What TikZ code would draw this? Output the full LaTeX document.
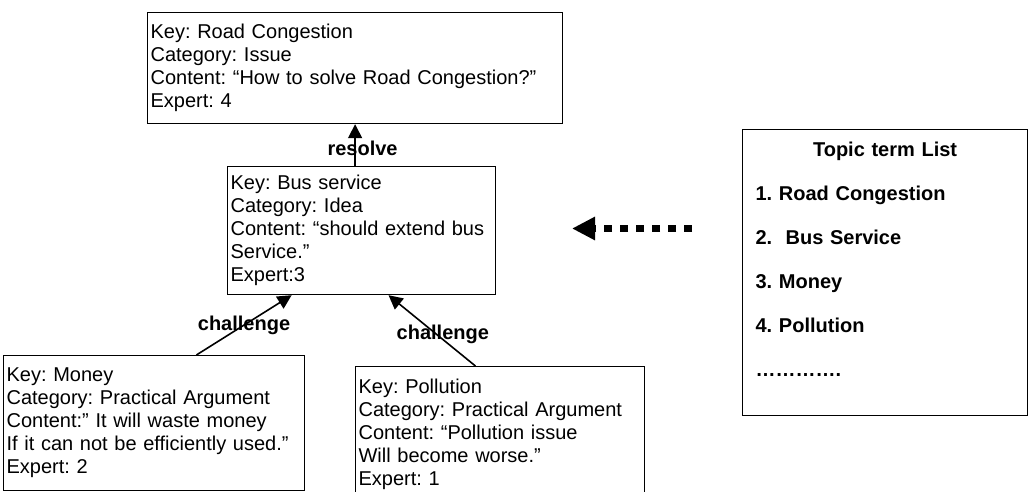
\documentclass[tikz,border=0pt]{standalone}
\usepackage{fontspec}
\setmainfont{Liberation Sans}
\usetikzlibrary{arrows.meta,calc}
\frenchspacing
\begin{document}
\begin{tikzpicture}[x=1pt,y=-1pt,
        card/.style={draw,line width=1.2pt,anchor=north west,align=left,
            inner xsep=3pt,inner ysep=0pt,font=\fontsize{20}{23}\selectfont},
        lbl/.style={font=\bfseries\fontsize{20}{23}\selectfont},
        link/.style={-{Triangle[length=14pt,width=14pt]},line width=1.6pt},
        hint/.style={-{Triangle[length=23pt,width=22pt]},line width=7pt,
            dash pattern=on 8pt off 8pt}]
    \useasboundingbox (0,0) rectangle (1028,492);
    % argument boxes
    \node[card,text width=409pt,minimum height=111pt] (issue) at (147,12)
        {Key: Road Congestion\\Category: Issue\\Content: “How to solve Road Congestion?”\\Expert: 4};
    \node[card,text width=262pt,minimum height=128pt] (idea) at (227,166)
        {Key: Bus service\\Category: Idea\\Content: “should extend bus\\Service.”\\Expert:3};
    \node[card,text width=295pt,minimum height=135pt] (money) at (3,355)
        {Key: Money\\Category: Practical Argument\\Content:” It will waste money\\If it can not be efficiently used.”\\Expert: 2};
    \node[card,text width=283pt,minimum height=135pt] (pollution) at (355,366)
        {Key: Pollution\\Category: Practical Argument\\Content: “Pollution issue\\Will become worse.”\\Expert: 1};
    % topic list
    \node[card,font=\bfseries\fontsize{20}{23}\selectfont,inner xsep=13pt,
        text width=259pt,minimum height=286pt] (topic) at (742,129)
        {\makebox[\hsize]{Topic term List}\\[21pt]1. Road Congestion\\[21pt]2.~ Bus Service\\[21pt]3. Money\\[21pt]4. Pollution\\[21pt]…………. \\[3pt]\mbox{}};

    \draw[link] (issue.south |- idea.north) -- (issue.south)
        node[lbl,pos=0.42,xshift=7.5pt] (resolvelbl) {resolve};
    \draw[link] ($(money.north west)!0.64!(money.north east)$) -- ($(idea.south west)!0.24!(idea.south east)$)
        node[lbl,midway] (moneylbl) {challenge};
    \draw[link] ($(pollution.north west)!0.415!(pollution.north east)$) -- ($(idea.south west)!0.6!(idea.south east)$)
        node[lbl,pos=0.41,xshift=3pt,yshift=2.5pt] (pollutionlbl) {challenge};

    \coordinate (hintstart) at (692,228.5);
    \coordinate (hinttip) at (572,228.5);
    \draw[hint] (hintstart) -- (hinttip);
\end{tikzpicture}
\end{document}
